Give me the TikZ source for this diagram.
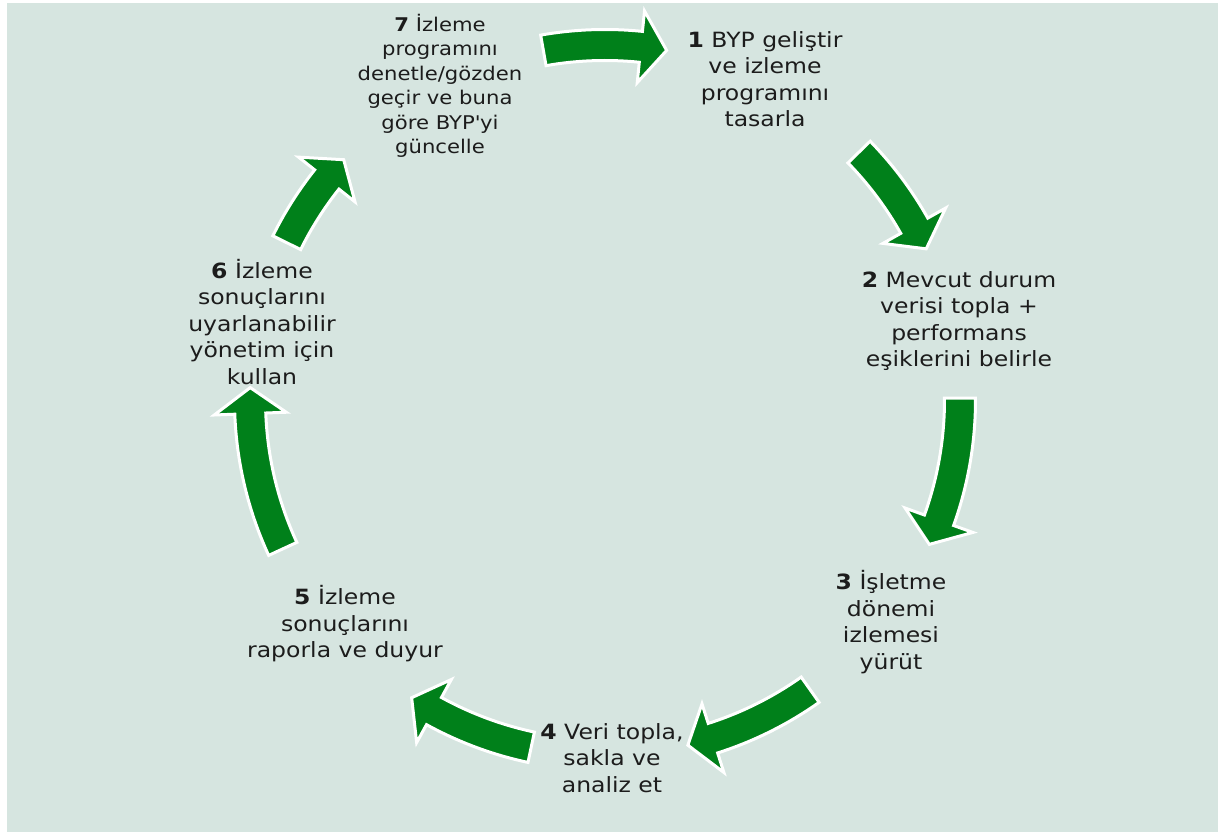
\documentclass[tikz,border=0pt]{standalone}
\usepackage{fontspec}
\setmainfont{DejaVu Sans}[FakeStretch=1.12]
\usepackage{tikz}
\usetikzlibrary{calc}

\definecolor{bgcol}{RGB}{214,229,224}
\definecolor{arrowgreen}{RGB}{0,128,26}
\definecolor{textcol}{RGB}{28,28,28}

\tikzset{
	stage/.style={align=center,text=textcol,font=\fontsize{21}{26.5}\selectfont},
	stagesmall/.style={stage,font=\fontsize{18.9}{24.5}\selectfont},
	blockarrow/.style={fill=arrowgreen,draw=white,line width=3pt,line join=miter}
}

\newcommand{\cyclearrow}[2]{%
	\path[blockarrow] (#1:339.5) arc[start angle=#1,end angle=#2+4.2,radius=339.5]
		-- (#2+4.2:319) -- (#2:355) -- (#2+4.2:391) -- (#2+4.2:370.5)
		arc[start angle=#2+4.2,end angle=#1,radius=370.5] -- cycle;}

\begin{document}
\begin{tikzpicture}[x=1pt,y=1pt]
	\useasboundingbox (0,0) rectangle (1226,832);
	\fill[bgcol] (7,0) rectangle (1218,829);
	\begin{scope}[shift={(605,432)}]
		\cyclearrow{100}{80}
		\cyclearrow{44.3}{25.2}
		\cyclearrow{0.3}{-24}
		\cyclearrow{-54.7}{-76.5}
		\cyclearrow{-102}{-123}
		\cyclearrow{204.8}{178}
		\cyclearrow{153.7}{137.4}
	\end{scope}
	\node[stage] (1) at (765,753)
	{\textbf{1} BYP geliştir\\ve izleme\\programını\\tasarla};
	\node[stage] (2) at (959,511)
	{\textbf{2} Mevcut durum\\verisi topla +\\performans\\eşiklerini belirle};
	\node[stage] (3) at (891,210)
	{\textbf{3} İşletme\\dönemi\\izlemesi\\yürüt};
	\node[stage] (4) at (612,74)
	{\textbf{4} Veri topla,\\sakla ve\\analiz et};
	\node[stage] (5) at (345,208)
	{\textbf{5} İzleme\\sonuçlarını\\raporla ve duyur};
	\node[stage] (6) at (262,510)
	{\textbf{6} İzleme\\sonuçlarını\\uyarlanabilir\\yönetim için\\kullan};
	\node[stagesmall] (7) at (440,746)
	{\textbf{7} İzleme\\programını\\denetle/gözden\\geçir ve buna\\göre BYP\textquotesingle yi\\güncelle};
\end{tikzpicture}
\end{document}
